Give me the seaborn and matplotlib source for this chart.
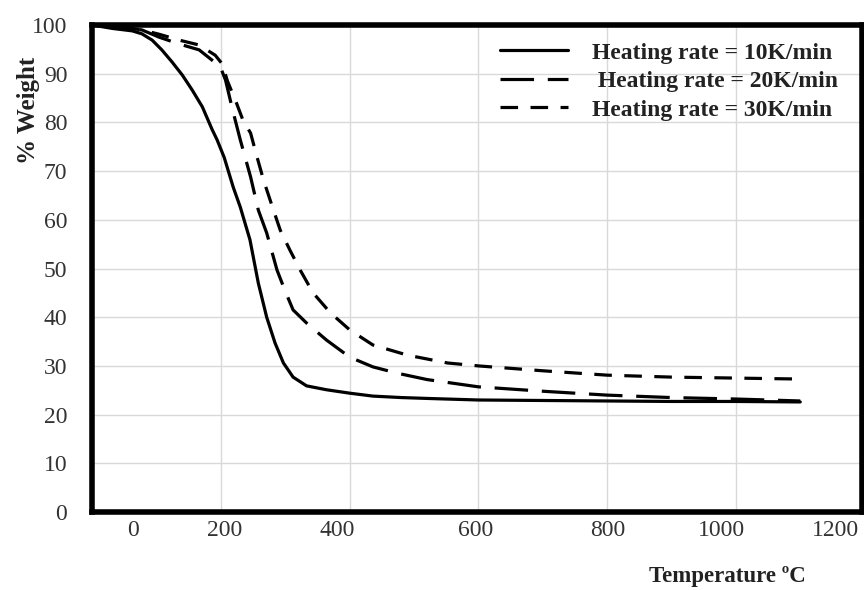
import numpy as np
import pandas as pd
import matplotlib
matplotlib.use("Agg")
import matplotlib.pyplot as plt
import seaborn as sns

# ---- data ----
rate_labels = ["Heating rate = 10K/min", " Heating rate = 20K/min", "Heating rate = 30K/min"]

t_10 = [0, 31, 62, 77, 93, 108, 124, 140, 155, 171, 186, 194, 205, 219, 230, 245, 258, 271, 284, 297,
        312, 333, 364, 400, 436, 480, 525, 600, 700, 800, 900, 1000, 1100]
w_10 = [100, 99.3, 98.8, 98.2, 96.9, 94.9, 92.4, 89.7, 86.7, 83.2, 78.6, 76.4, 72.8, 66.7, 62.6, 55.9,
        47.0, 40.0, 34.7, 30.6, 27.7, 25.9, 25.1, 24.4, 23.8, 23.5, 23.3, 23.0, 22.9, 22.8, 22.7, 22.7, 22.6]

t_20 = [0, 40, 77, 104, 135, 166, 186, 199, 207, 218, 230, 246, 258, 271, 287, 299, 312, 333, 364, 400,
        436, 474, 520, 552, 600, 700, 800, 900, 1000, 1100]
w_20 = [100, 99.6, 99.0, 97.5, 96.1, 94.9, 92.8, 91.4, 88.7, 82.6, 76.4, 68.8, 62.0, 57.3, 49.7, 45.6,
        41.5, 38.8, 35.3, 31.8, 29.8, 28.5, 27.2, 26.6, 25.7, 24.8, 24.0, 23.5, 23.2, 22.8]

t_30 = [0, 40, 77, 104, 135, 166, 191, 202, 210, 224, 234, 246, 256, 266, 280, 292, 307, 323, 343, 370,
        400, 436, 490, 552, 600, 700, 800, 900, 1000, 1100]
w_30 = [100, 99.7, 99.0, 98.1, 96.9, 95.9, 93.8, 92.0, 88.5, 84.0, 80.5, 77.8, 72.9, 68.2, 62.6, 57.9,
        53.8, 49.7, 45.0, 40.9, 37.4, 34.3, 32.2, 30.6, 30.0, 29.0, 28.1, 27.7, 27.5, 27.3]

y_ticks = [0, 10, 20, 30, 40, 50, 60, 70, 80, 90, 100]
grid_x = [200, 400, 600, 800, 1000]
x_tick_pos = [63, 205, 380, 596, 801, 977, 1155]
x_tick_labels = ["0", "200", "400", "600", "800", "1000", "1200"]

df = pd.concat([
    pd.DataFrame({"T": t_10, "W": w_10, "rate": rate_labels[0]}),
    pd.DataFrame({"T": t_20, "W": w_20, "rate": rate_labels[1]}),
    pd.DataFrame({"T": t_30, "W": w_30, "rate": rate_labels[2]}),
], ignore_index=True)

sns.set_style("white")
plt.rcParams["font.family"] = ["Liberation Serif", "DejaVu Serif"]

fig = plt.figure(figsize=(8.64, 5.90), dpi=100)
ax = fig.add_axes([0.1068, 0.1322, 0.8909, 0.8254])

lw = 2.3
dashes = {rate_labels[0]: "", rate_labels[1]: (10.5, 4.3), rate_labels[2]: (5.5, 3.9)}
sns.lineplot(data=df, x="T", y="W", style="rate", dashes=dashes, color="black",
             linewidth=lw, sort=False, estimator=None, ax=ax)
for ln in ax.get_lines():
    ln.set_solid_joinstyle("round")
    ln.set_dash_joinstyle("round")

ax.set_xlim(0, 1196)
ax.set_ylim(0, 100)
ax.set_yticks(y_ticks)
ax.set_xticks(x_tick_pos)
ax.set_xticklabels(x_tick_labels)
ax.set_xticks(grid_x, minor=True)
ax.grid(False)
ax.grid(True, axis="y", which="major", color="#d9d9d9", linewidth=1.0)
ax.grid(True, axis="x", which="minor", color="#d9d9d9", linewidth=1.0)
ax.set_axisbelow(True)

ax.tick_params(axis="both", which="both", length=0, labelsize=17, labelcolor="#333333")
ax.tick_params(axis="y", pad=18)
ax.tick_params(axis="x", pad=6)

for s in ax.spines.values():
    s.set_visible(True)
    s.set_linewidth(4)
    s.set_color("black")

ax.set_xlabel("Temperature ºC", fontsize=16.5, fontweight="bold", color="#222222")
ax.set_ylabel("% Weight", fontsize=18, fontweight="bold", color="#222222")
ax.xaxis.set_label_coords(0.825, -0.111)
ax.yaxis.set_label_coords(-0.0675, 0.825)

handles, labels = ax.get_legend_handles_labels()
leg = ax.legend(handles, labels, loc="upper left", frameon=False,
                bbox_to_anchor=(500 / 864, (590 - 42) / 590), bbox_transform=fig.transFigure,
                borderpad=0, borderaxespad=0, handlelength=2.9, handletextpad=1.0,
                labelspacing=0.3, prop={"weight": "bold", "size": 17})
for h in leg.get_lines():
    h.set_linewidth(lw)
    h.set_color("black")
for t in leg.get_texts():
    t.set_color("#222222")

fig.savefig("out.png", dpi=100)
